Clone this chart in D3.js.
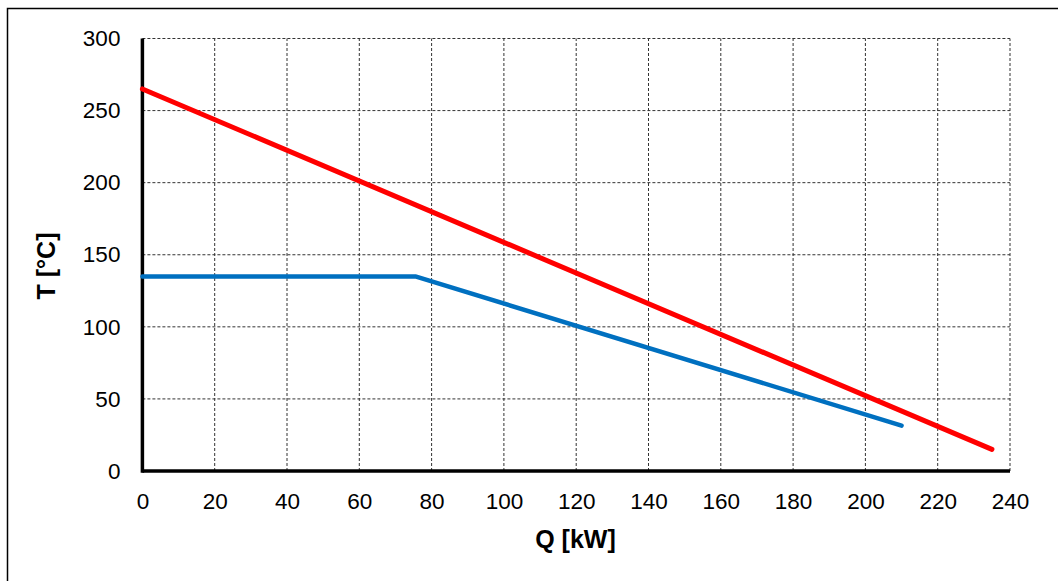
<!DOCTYPE html>
<html>
<head>
<meta charset="utf-8">
<script src="https://cdn.jsdelivr.net/npm/d3@7"></script>
<style>
  html, body { margin: 0; padding: 0; background: #fff; }
  svg { display: block; }
  text { font-family: "Liberation Sans", Arial, sans-serif; fill: #000; }
</style>
</head>
<body>
<svg id="chart" width="1058" height="581"></svg>
<script>
// Temperature profiles along the heat duty
const hotQ = [0, 235];
const hotT = [265, 15];
const coldQ = [0, 75.5, 210];
const coldT = [135, 135, 31.5];
const xTicks = [0, 20, 40, 60, 80, 100, 120, 140, 160, 180, 200, 220, 240];
const yTicks = [0, 50, 100, 150, 200, 250, 300];

const svg = d3.select("#chart");
const W = 1058, H = 581;
const m = { left: 142.4, right: 1010, top: 38.5, bottom: 471 };

const x = d3.scaleLinear().domain([0, 240]).range([m.left, m.right]);
const y = d3.scaleLinear().domain([0, 300]).range([m.bottom, m.top]);

svg.append("rect").attr("width", W).attr("height", H).attr("fill", "#fff");

// outer frame
svg.append("rect")
  .attr("x", 7.5).attr("y", 8.5)
  .attr("width", W + 20).attr("height", H + 20)
  .attr("fill", "none").attr("stroke", "#000").attr("stroke-width", 1.5);

// dashed grid
const grid = svg.append("g");
grid.selectAll("line.v").data(xTicks.filter(d => d > 0)).join("line")
  .attr("x1", d => x(d)).attr("x2", d => x(d))
  .attr("y1", y(0)).attr("y2", y(300))
  .attr("stroke", "#333").attr("stroke-width", 1).attr("stroke-dasharray", "3,2");
grid.selectAll("line.h").data(yTicks.filter(d => d > 0)).join("line")
  .attr("y1", d => y(d)).attr("y2", d => y(d))
  .attr("x1", x(0)).attr("x2", x(240))
  .attr("stroke", "#333").attr("stroke-width", 1).attr("stroke-dasharray", "3,2");

// axes
const xAxis = svg.append("g").attr("transform", `translate(0,${y(0)})`)
  .call(d3.axisBottom(x).tickValues(xTicks).tickSize(0).tickPadding(22));
const yAxis = svg.append("g").attr("transform", `translate(${x(0)},0)`)
  .call(d3.axisLeft(y).tickValues(yTicks).tickSize(0).tickPadding(22));
[xAxis, yAxis].forEach(g => {
  g.select(".domain").remove();
  g.attr("font-size", null).attr("font-family", null);
  g.selectAll("text").style("font-size", "22.5px");
});

svg.append("line").attr("x1", x(0)).attr("x2", x(240)).attr("y1", y(0)).attr("y2", y(0))
  .attr("stroke", "#000").attr("stroke-width", 3.5);
svg.append("line").attr("x1", x(0)).attr("x2", x(0)).attr("y1", y(0) + 1.75).attr("y2", y(300))
  .attr("stroke", "#000").attr("stroke-width", 3.5);

// series
const line = d3.line().x(d => x(d[0])).y(d => y(d[1]));
svg.append("path").datum(coldQ.map((q, i) => [q, coldT[i]]))
  .attr("d", line).attr("fill", "none").attr("stroke", "#0070C0")
  .attr("stroke-width", 4.5).attr("stroke-linecap", "round").attr("stroke-linejoin", "round");
svg.append("path").datum(hotQ.map((q, i) => [q, hotT[i]]))
  .attr("d", line).attr("fill", "none").attr("stroke", "#FF0000")
  .attr("stroke-width", 5).attr("stroke-linecap", "round").attr("stroke-linejoin", "round");

// axis titles
svg.append("text").attr("x", 575.5).attr("y", 548)
  .attr("text-anchor", "middle").style("font-size", "25px").attr("font-weight", "bold")
  .text("Q [kW]");
svg.append("text").attr("transform", `translate(54.5,266) rotate(-90)`)
  .attr("text-anchor", "middle").style("font-size", "25px").attr("font-weight", "bold")
  .text("T [°C]");
</script>
</body>
</html>
